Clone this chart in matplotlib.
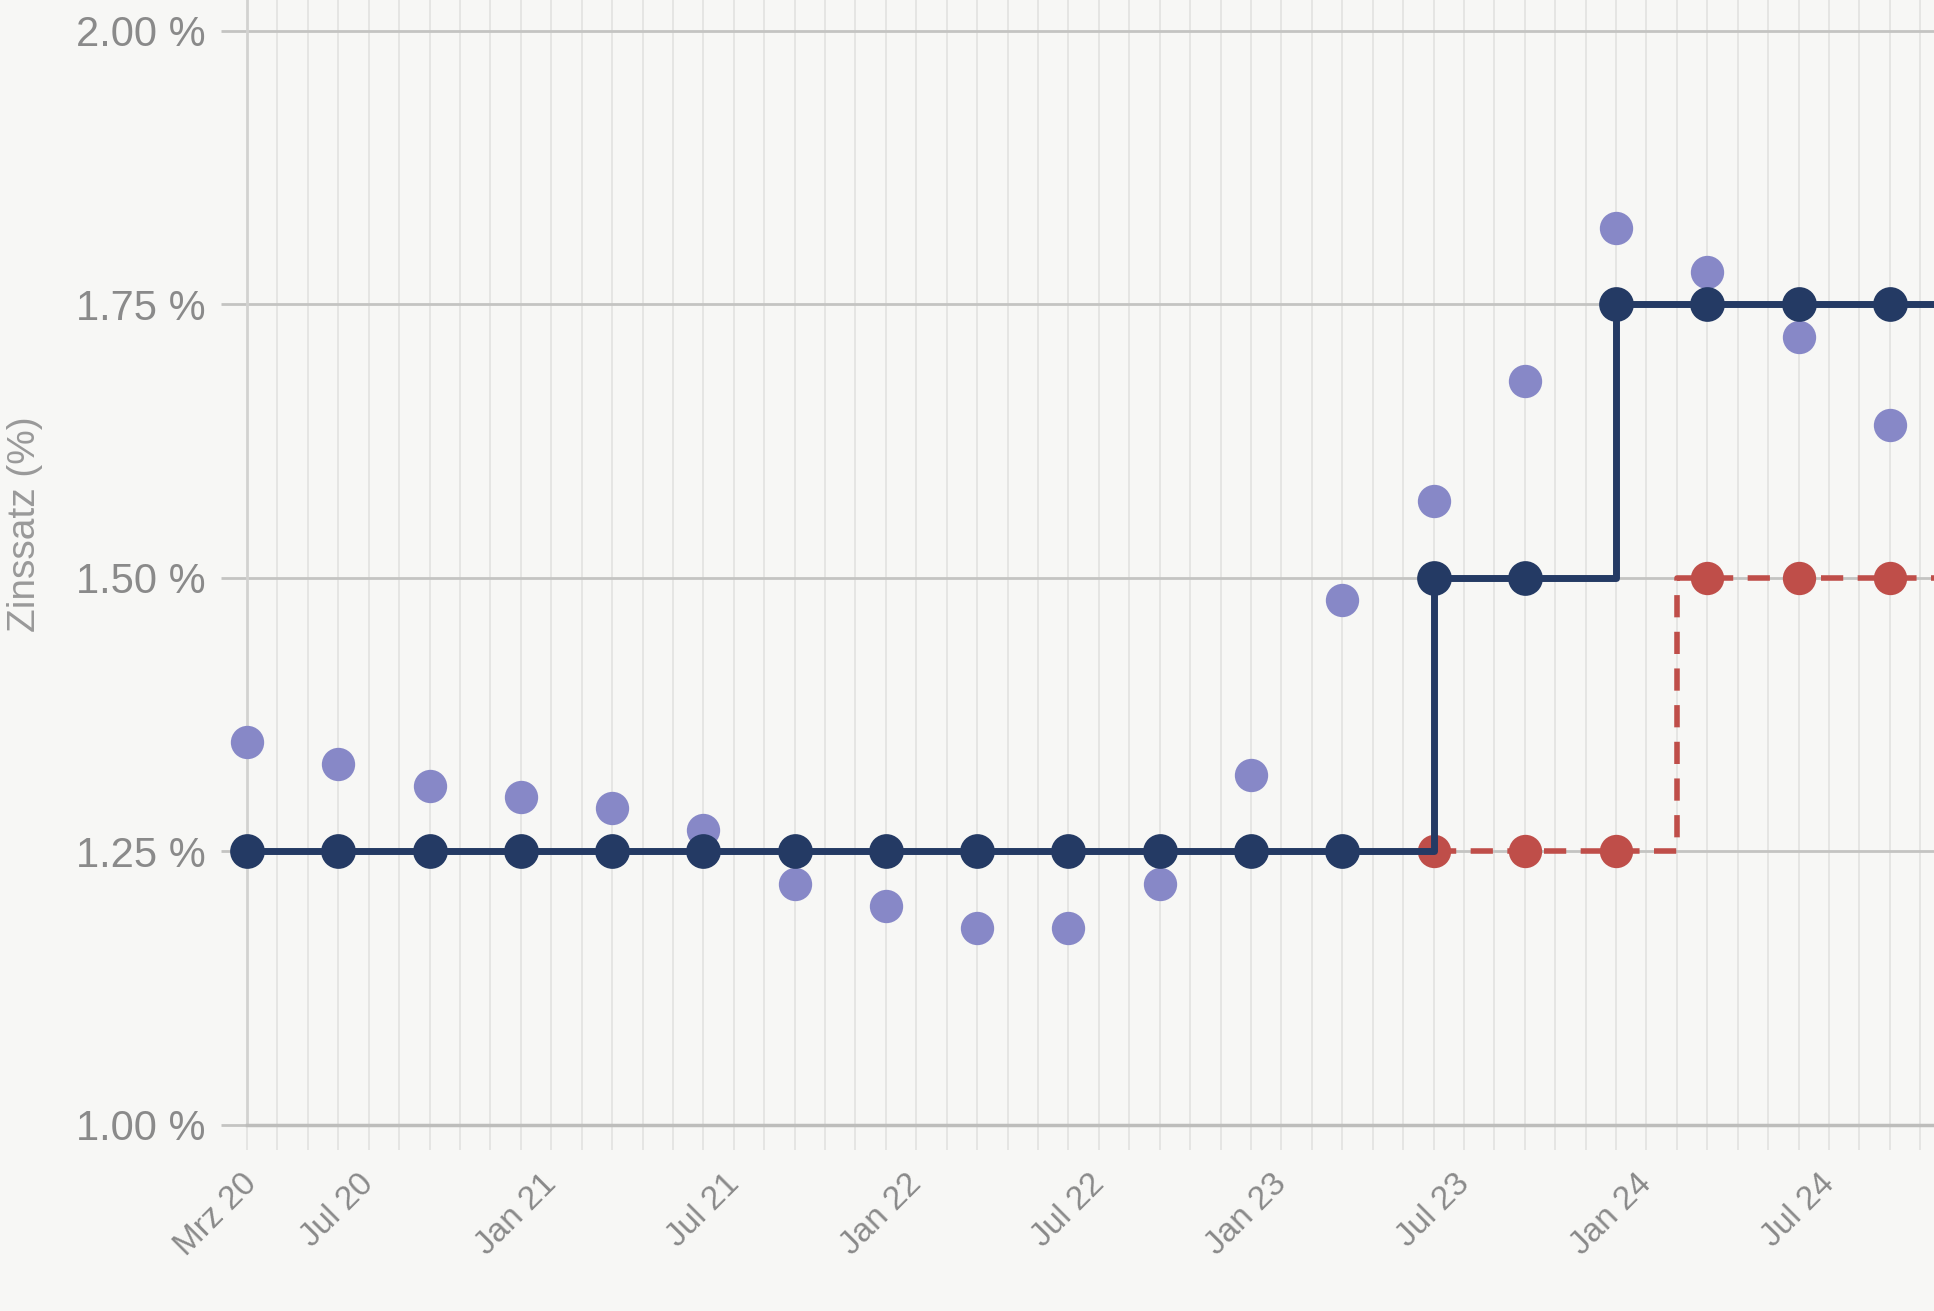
import matplotlib
matplotlib.use('Agg')
import matplotlib.pyplot as plt
from matplotlib.transforms import ScaledTranslation

plt.rcParams['font.family'] = ['Liberation Sans', 'DejaVu Sans']

# ---- data ----
quarter_months = [0, 3, 6, 9, 12, 15, 18, 21, 24, 27, 30, 33, 36, 39, 42, 45, 48, 51, 54]
policy_rate = [1.25, 1.25, 1.25, 1.25, 1.25, 1.25, 1.25, 1.25, 1.25, 1.25, 1.25, 1.25, 1.25,
               1.50, 1.50, 1.75, 1.75, 1.75, 1.75]
market_rate = [1.35, 1.33, 1.31, 1.30, 1.29, 1.27, 1.22, 1.20, 1.18, 1.18, 1.22, 1.32, 1.48,
               1.57, 1.68, 1.82, 1.78, 1.72, 1.64]
alt_months = [39, 42, 45, 48, 51, 54]
alt_rate = [1.25, 1.25, 1.25, 1.50, 1.50, 1.50]
alt_step_month = 47
alt_step_rate = 1.50

tick_months = [0, 3, 9, 15, 21, 27, 33, 39, 45, 51]
tick_labels = ['Mrz 20', 'Jul 20', 'Jan 21', 'Jul 21', 'Jan 22', 'Jul 22',
               'Jan 23', 'Jul 23', 'Jan 24', 'Jul 24']
y_ticks = [1.00, 1.25, 1.50, 1.75, 2.00]

# ---- style ----
BG = '#f7f7f5'
NAVY = '#243a64'
PURPLE = '#8788c7'
RED = '#bf4e49'
TXT = '#8a8a8a'

W, H = 1934, 1311
fig = plt.figure(figsize=(W / 100, H / 100), dpi=100, facecolor=BG)
ax = fig.add_axes([247 / W, (H - 1125) / H, 1 - 247 / W, 1125 / H])
ax.set_facecolor(BG)

x_right = 55.45
ax.set_xlim(0, x_right)
ax.set_ylim(1.0, 2.0 + 31 / 1094)

# grids
ax.set_xticks(list(range(0, 56)), minor=True)
ax.set_xticks(tick_months)
ax.set_xticklabels(tick_labels)
ax.set_yticks(y_ticks)
ax.set_yticklabels([f'{v:.2f} %' for v in y_ticks])

ax.grid(which='minor', axis='x', color='#e4e4e2', linewidth=1.3, zorder=0)
ax.grid(which='major', axis='x', color='#e4e4e2', linewidth=1.3, zorder=0)
ax.grid(which='major', axis='y', color='#c4c4c2', linewidth=2.0, zorder=0)

ax.tick_params(axis='x', which='both', length=18, width=1.3, color='#e4e4e2',
               direction='out', labelsize=24, labelcolor=TXT, pad=13)
ax.tick_params(axis='y', which='major', length=19, width=2.0, color='#c4c4c2',
               direction='out', labelsize=30, labelcolor=TXT, pad=11)

for lab in ax.get_xticklabels():
    lab.set_rotation(45)
    lab.set_ha('right')
    lab.set_va('top')
    lab.set_rotation_mode('anchor')
offsets = [-6] + [20] * (len(tick_labels) - 1)
for lab, off in zip(ax.get_xticklabels(), offsets):
    lab.set_transform(lab.get_transform() + ScaledTranslation(off / 100, 0, fig.dpi_scale_trans))

for s in ['top', 'right']:
    ax.spines[s].set_visible(False)
ax.spines['left'].set_color('#d2d2d0')
ax.spines['left'].set_linewidth(2.0)
ax.spines['bottom'].set_color('#bdbdbb')
ax.spines['bottom'].set_linewidth(2.5)

# market expectation dots
ax.plot(quarter_months, market_rate, 'o', color=PURPLE, markersize=24,
        markeredgewidth=0, zorder=3, clip_on=False)

# alternative path (red dashed)
alt_x = alt_months[:3] + [alt_step_month] + alt_months[3:] + [x_right]
alt_y = alt_rate[:3] + [alt_step_rate] + alt_rate[3:] + [alt_rate[-1]]
ax.plot(alt_x, alt_y, drawstyle='steps-post', color=RED, linewidth=4.0,
        dashes=(4.0, 2.6), zorder=4, solid_capstyle='butt', dash_capstyle='butt')
ax.plot(alt_months, alt_rate, 'o', color=RED, markersize=24, markeredgewidth=0, zorder=4)

# policy rate (navy step)
pol_x = quarter_months + [x_right]
pol_y = policy_rate + [policy_rate[-1]]
ax.plot(pol_x, pol_y, drawstyle='steps-post', color=NAVY, linewidth=5.0, zorder=5)
ax.plot(quarter_months, policy_rate, 'o', color=NAVY, markersize=25,
        markeredgewidth=0, zorder=6, clip_on=False)

fig.text(25 / W, 1 - 524 / H, 'Zinssatz (%)', rotation=90, ha='center', va='center',
         fontsize=28, color='#999999')

fig.savefig('out.png', dpi=100, facecolor=BG)
